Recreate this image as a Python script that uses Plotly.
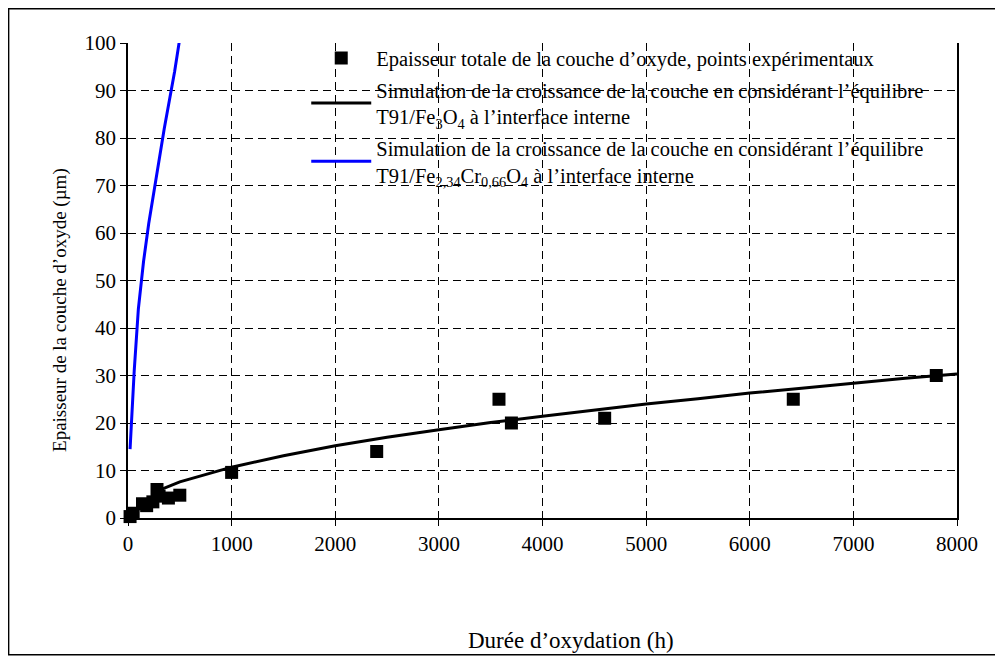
import plotly.graph_objects as go

# experimental points: duration (h) and total oxide thickness (um)
exp_t = [20, 50, 140, 180, 240, 280, 300, 390, 500, 1000, 2400, 3580, 3700, 4600, 6420, 7800]
exp_e = [0.3, 1.0, 3.0, 2.6, 3.4, 6.0, 4.6, 4.2, 4.8, 9.6, 14.0, 25.0, 20.0, 21.0, 25.0, 30.0]

# simulation T91/Fe3O4
sim1_t = [250, 500, 1000, 1500, 2000, 2500, 3000, 3500, 4000, 4500, 5000, 5500, 6000, 6500, 7000, 7500, 8000]
sim1_e = [5.4, 7.6, 10.7, 13.1, 15.2, 17.0, 18.6, 20.1, 21.4, 22.7, 24.0, 25.1, 26.3, 27.3, 28.4, 29.4, 30.3]

# simulation T91/Fe2.34Cr0.66O4
sim2_t = [20, 35, 60, 100, 150, 200, 250, 300, 350, 400, 450, 500]
sim2_e = [14.5, 22, 31, 44, 54, 62, 69, 76, 82, 88, 94, 101]

font = "Liberation Serif"

fig = go.Figure()
fig.add_trace(go.Scatter(
    x=exp_t, y=exp_e, mode="markers",
    marker=dict(symbol="square", size=13, color="black"),
    cliponaxis=False, legendgroup="a",
    name="Epaisseur totale de la couche d’oxyde, points expérimentaux"))
fig.add_trace(go.Scatter(
    x=sim1_t, y=sim1_e, mode="lines", line=dict(color="black", width=3),
    legendgroup="b",
    name="Simulation de la croissance de la couche en considérant l’équilibre<br>"
         "T91/Fe<sub>3</sub>O<sub>4</sub> à l’interface interne"))
fig.add_trace(go.Scatter(
    x=sim2_t, y=sim2_e, mode="lines", line=dict(color="#0000FF", width=3),
    legendgroup="c",
    name="Simulation de la croissance de la couche en considérant l’équilibre<br>"
         "T91/Fe<sub>2,34</sub>Cr<sub>0,66</sub>O<sub>4</sub> à l’interface interne"))

fig.update_layout(
    width=995, height=654,
    margin=dict(l=120, r=46, t=35, b=144),
    paper_bgcolor="white", plot_bgcolor="white",
    font=dict(family=font, size=21, color="black"),
    legend=dict(x=0.215, y=1.01, xanchor="left", yanchor="top",
                bgcolor="rgba(0,0,0,0)", font=dict(size=20.5, family=font),
                itemwidth=60, tracegroupgap=2),
    xaxis=dict(range=[0, 8000], tick0=0, dtick=1000, ticks="outside", ticklen=6,
               tickcolor="black", showline=True, linecolor="black", linewidth=1.5,
               showgrid=True, gridcolor="black", griddash="8px,5px", gridwidth=1,
               zeroline=False, tickfont=dict(family=font, size=21)),
    yaxis=dict(range=[0, 100], tick0=0, dtick=10, ticks="outside", ticklen=6,
               tickcolor="black", showline=True, linecolor="black", linewidth=1.5,
               mirror=True, tickfont=dict(family=font, size=21),
               showgrid=True, gridcolor="black", griddash="8px,5px", gridwidth=1,
               zeroline=False),
    annotations=[
        dict(text="Durée d’oxydation (h)", xref="paper", yref="paper",
             x=0.534, y=-0.257, xanchor="center", yanchor="middle",
             showarrow=False, font=dict(family=font, size=23)),
        dict(text="Epaisseur de la couche d’oxyde (µm)", xref="paper", yref="paper",
             x=-0.082, y=0.438, xanchor="center", yanchor="middle", textangle=-90,
             showarrow=False, font=dict(family=font, size=19)),
    ],
    shapes=[dict(type="rect", xref="paper", yref="paper",
                 x0=-0.144, x1=1.049, y0=-0.288, y1=1.072,
                 line=dict(color="black", width=1.5))],
)

fig.write_html("out.html")
